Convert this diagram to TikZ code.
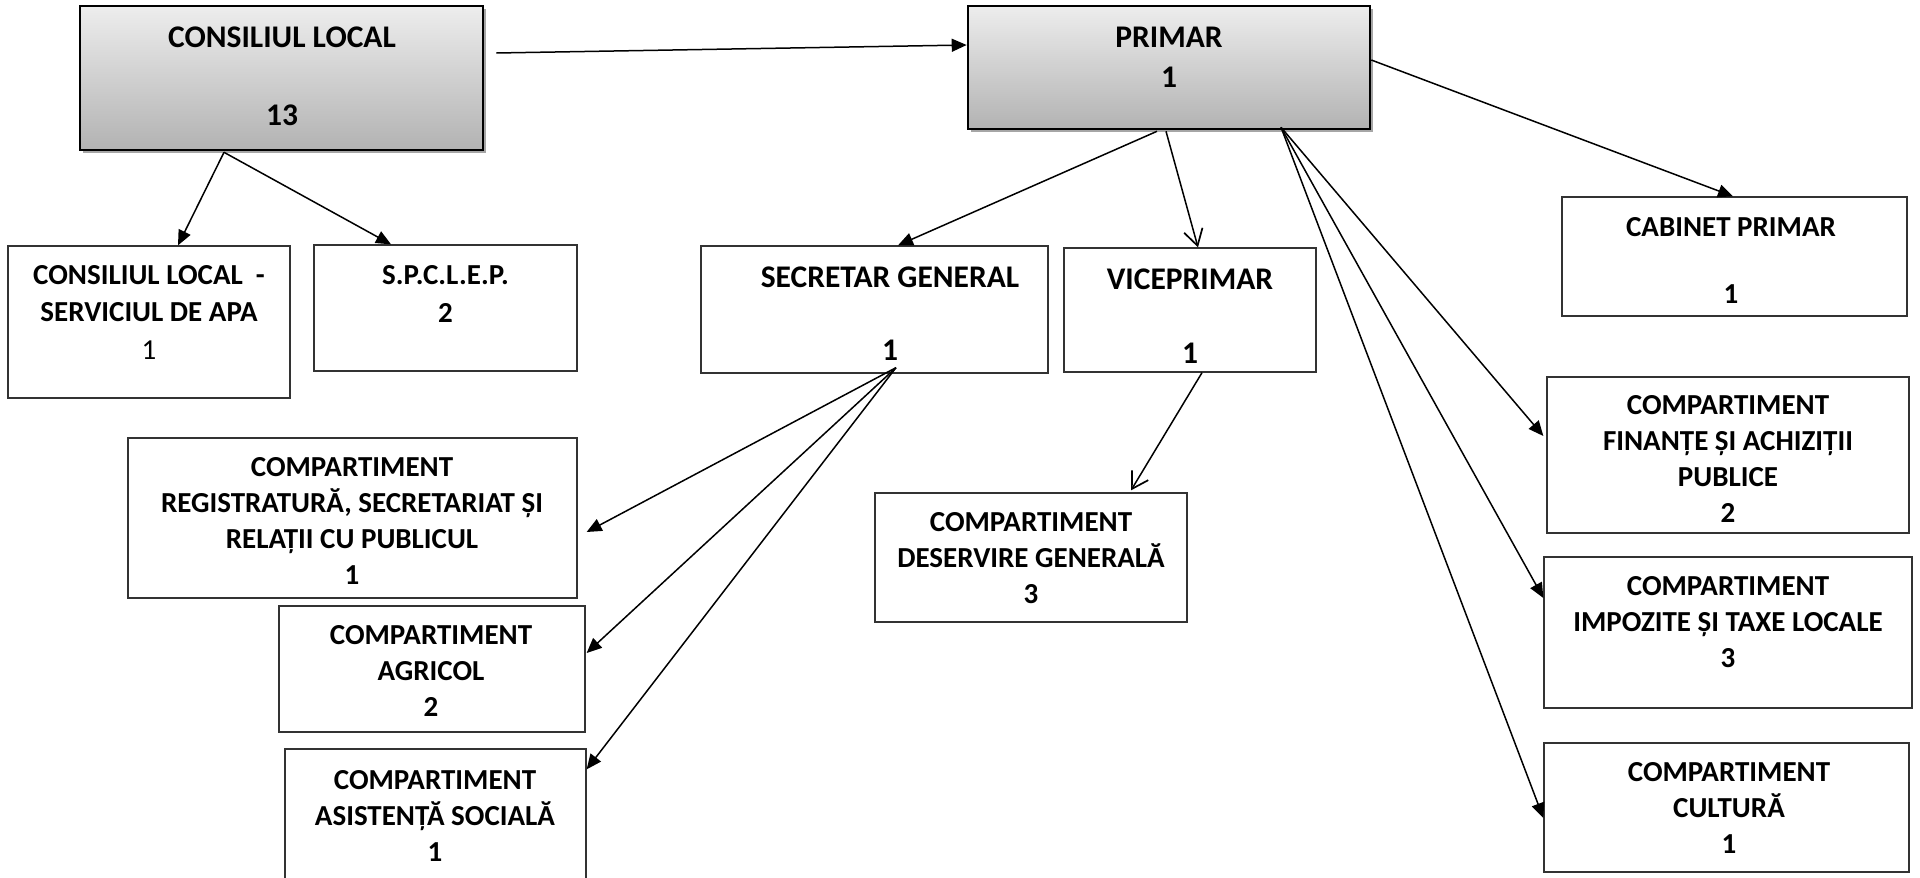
\documentclass[tikz,border=0pt]{standalone}
\usepackage{fontspec}
\setmainfont{Carlito}
\usetikzlibrary{arrows.meta,calc,shadows}
\begin{document}
\begin{tikzpicture}[x=1pt,y=-1pt,
  wbox/.style={draw=black!80, line width=1.3pt, fill=white, inner sep=0pt},
  gbox/.style={draw=black, line width=2.6pt, inner sep=0pt, top color=black!7, bottom color=black!30,
    drop shadow={shadow xshift=3pt, shadow yshift=-3pt, fill=black!35, opacity=1}},
  txt/.style={align=center, inner sep=0pt, font=\fontsize{29}{36}\selectfont\bfseries},
  big/.style={font=\fontsize{31.5}{38}\selectfont\bfseries},
  arr/.style={line width=1.5pt, -{Triangle[length=15pt,width=13pt]}},
  oarr/.style={line width=1.5pt, -{Straight Barb[length=16pt,width=19pt,line width=1.7pt]}}]
\useasboundingbox (0,0) rectangle (1920,878);
% boxes
\node[gbox, minimum width=403pt, minimum height=144pt] (cl) at (281.5,78) {};
\node[gbox, minimum width=402pt, minimum height=123pt] (primar) at (1169,67.5) {};
\node[wbox, minimum width=282pt, minimum height=152pt] (clapa) at (149,322) {};
\node[wbox, minimum width=263pt, minimum height=126pt] (spclep) at (445.5,308) {};
\node[wbox, minimum width=347pt, minimum height=127pt] (secretar) at (874.5,309.5) {};
\node[wbox, minimum width=252pt, minimum height=124pt] (vice) at (1190,310) {};
\node[wbox, minimum width=345pt, minimum height=119pt] (cabinet) at (1734.5,256.5) {};
\node[wbox, minimum width=362pt, minimum height=156pt] (finante) at (1728,455) {};
\node[wbox, minimum width=368pt, minimum height=151pt] (impozite) at (1728,632.5) {};
\node[wbox, minimum width=365pt, minimum height=129pt] (cultura) at (1726.5,807.5) {};
\node[wbox, minimum width=449pt, minimum height=160pt] (registratura) at (352.5,518) {};
\node[wbox, minimum width=306pt, minimum height=126pt] (agricol) at (432,669) {};
\node[wbox, minimum width=301pt, minimum height=140pt] (asistenta) at (435.5,819) {};
\node[wbox, minimum width=312pt, minimum height=129pt] (deservire) at (1031,557.5) {};
% texts
\node[txt,big] (cl-t) at (282,78.5) {\strut CONSILIUL LOCAL\\[40pt]\strut 13};
\node[txt,big] (primar-t) at (1169,59.5) {\strut PRIMAR\\[2pt]\strut 1};
\node[txt] (clapa-t) at (149,314.6) {\strut CONSILIUL LOCAL\ \ -\\[1.5pt]\strut SERVICIUL DE APA\\[1.5pt]\strut\mdseries 1};
\node[txt] (spclep-t) at (445.5,296) {\strut S.P.C.L.E.P.\\[2pt]\strut 2};
\node[txt,big] (secretar-t) at (890,316) {\strut SECRETAR GENERAL\\[35pt]\strut 1};
\node[txt,big] (vice-t) at (1190,318.5) {\strut VICEPRIMAR\\[36pt]\strut 1};
\node[txt] (cabinet-t) at (1731,262.6) {\strut CABINET PRIMAR\\[31pt]\strut 1};
\node[txt] (finante-t) at (1728,461.6) {\strut COMPARTIMENT\\\strut FINANȚE ȘI ACHIZIȚII\\\strut PUBLICE\\\strut 2};
\node[txt] (impozite-t) at (1728,624) {\strut COMPARTIMENT\\\strut IMPOZITE ȘI TAXE LOCALE\\\strut 3};
\node[txt] (cultura-t) at (1729,810.6) {\strut COMPARTIMENT\\\strut CULTURĂ\\\strut 1};
\node[txt] (registratura-t) at (352,523.6) {\strut COMPARTIMENT\\\strut REGISTRATURĂ, SECRETARIAT ȘI\\\strut RELAȚII CU PUBLICUL\\\strut 1};
\node[txt] (agricol-t) at (431,673.6) {\strut COMPARTIMENT\\\strut AGRICOL\\\strut 2};
\node[txt] (asistenta-t) at (435,818) {\strut COMPARTIMENT\\\strut ASISTENȚĂ SOCIALĂ\\\strut 1};
\node[txt] (deservire-t) at (1031,560.6) {\strut COMPARTIMENT\\\strut DESERVIRE GENERALĂ\\\strut 3};
% connectors
\draw[arr] ($(cl.east)+(12,-25)$) -- ($(primar.west)+(0,-22.5)$);
\draw[arr] ($(cl.south)+(-57.5,1)$) -- ($(clapa.north)+(29,0)$);
\draw[arr] ($(cl.south)+(-57.5,1)$) -- ($(spclep.north)+(-54.5,0)$);
\draw[arr] ($(primar.south)+(-12,1)$) -- ($(secretar.north)+(23.5,0)$);
\draw[oarr] ($(primar.south)+(-3,1)$) -- ($(vice.north)+(8,0)$);
\draw[arr] ($(primar.east)+(0,-7.5)$) -- ($(cabinet.north)+(-1.5,0)$);
\draw[arr] ($(primar.south)+(112,-3)$) -- ($(finante.west)+(-3,-19)$);
\draw[arr] ($(primar.south)+(112,-3)$) -- ($(impozite.west)+(0,-34.5)$);
\draw[arr] ($(primar.south)+(112,-3)$) -- ($(cultura.west)+(0,10.5)$);
\draw[arr] ($(secretar.south)+(21.5,-6)$) -- ($(registratura.east)+(9,14)$);
\draw[arr] ($(secretar.south)+(21.5,-6)$) -- ($(agricol.east)+(1,-16)$);
\draw[arr] ($(secretar.south)+(21.5,-6)$) -- ($(asistenta.north east)+(0,21)$);
\draw[oarr] ($(vice.south)+(12,0)$) -- ($(deservire.north)+(100,-2)$);
\end{tikzpicture}
\end{document}
